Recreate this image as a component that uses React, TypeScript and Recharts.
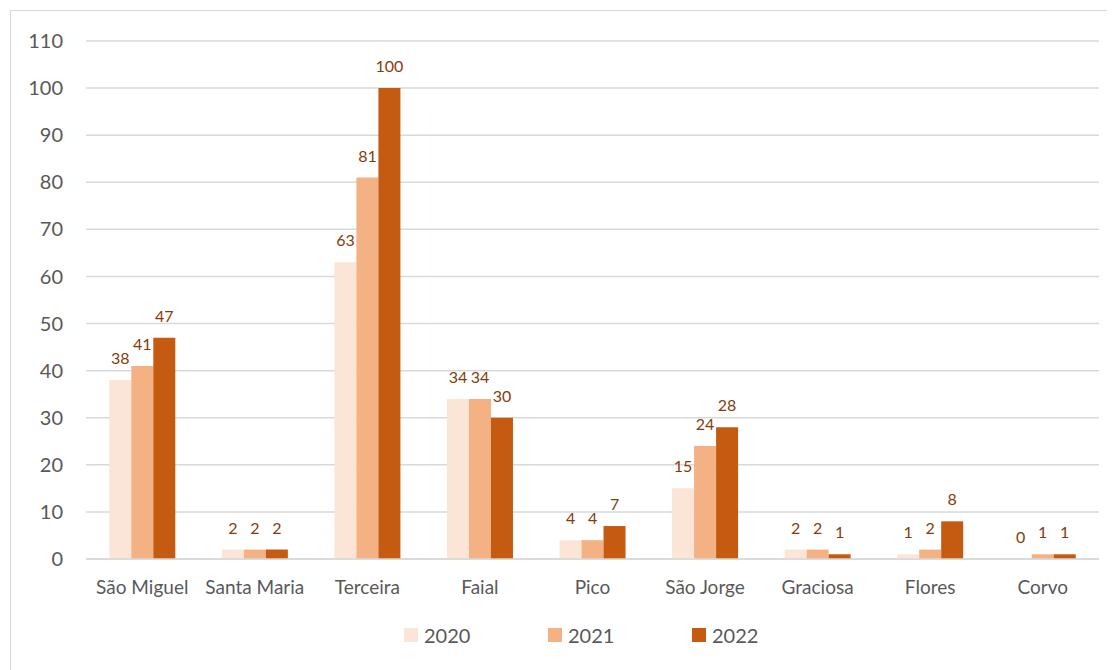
import React from 'react';
import { BarChart, Bar, XAxis, YAxis, CartesianGrid, Legend, LabelList } from 'recharts';

const islands = ['São Miguel', 'Santa Maria', 'Terceira', 'Faial', 'Pico', 'São Jorge', 'Graciosa', 'Flores', 'Corvo'];
const values2020 = [38, 2, 63, 34, 4, 15, 2, 1, 0];
const values2021 = [41, 2, 81, 34, 4, 24, 2, 2, 1];
const values2022 = [47, 2, 100, 30, 7, 28, 1, 8, 1];
const yTicks = [0, 10, 20, 30, 40, 50, 60, 70, 80, 90, 100, 110];

const SERIES = [
  { key: 'y2020', name: '2020', color: '#FBE5D6' },
  { key: 'y2021', name: '2021', color: '#F4B183' },
  { key: 'y2022', name: '2022', color: '#C55A11' },
];

const data = islands.map((island, i) => ({
  island,
  y2020: values2020[i],
  y2021: values2021[i],
  y2022: values2022[i],
}));

const TEXT = '#595959';
const LABEL = '#843C0C';
const GRID = '#D9D9D9';

const renderLegend = () => (
  <div style={{ display: 'flex', paddingLeft: 393, height: 20, alignItems: 'center' }}>
    {SERIES.map((s) => (
      <div key={s.key} style={{ display: 'flex', alignItems: 'center', width: 144 }}>
        <span style={{ display: 'inline-block', width: 14, height: 14, background: s.color, marginRight: 6 }} />
        <span style={{ fontSize: 20, color: TEXT, lineHeight: '20px' }}>{s.name}</span>
      </div>
    ))}
  </div>
);

const App: React.FC = () => {
  return (
    <div
      style={{
        marginLeft: 2,
        marginTop: 2,
        width: 1120,
        height: 680,
        border: `1px solid ${GRID}`,
        fontFamily: 'Lato, sans-serif',
        background: '#fff',
      }}
    >
      <BarChart
        width={1120}
        height={680}
        data={data}
        margin={{ top: 30, right: 32, left: 0, bottom: 72 }}
        barCategoryGap="20.7%"
        barGap={0}
      >
        <CartesianGrid vertical={false} stroke={GRID} strokeWidth={1.5} />
        <XAxis
          dataKey="island"
          axisLine={{ stroke: GRID, strokeWidth: 1.5 }}
          tickLine={false}
          tickMargin={16}
          height={40}
          tick={{ fill: TEXT, fontSize: 19 }}
          interval={0}
        />
        <YAxis
          width={75}
          domain={[0, 110]}
          ticks={yTicks}
          axisLine={false}
          tickLine={false}
          tickMargin={17}
          tick={{ fill: TEXT, fontSize: 20 }}
        />
        <Legend content={renderLegend} wrapperStyle={{ top: 614, left: 0, width: 1120 }} />
        {SERIES.map((s) => (
          <Bar
            key={s.key}
            dataKey={s.key}
            name={s.name}
            fill={s.color}
            minPointSize={0.01}
            isAnimationActive={false}
          >
            <LabelList dataKey={s.key} position="top" offset={16} fill={LABEL} fontSize={16} />
          </Bar>
        ))}
      </BarChart>
    </div>
  );
};

export default App;
